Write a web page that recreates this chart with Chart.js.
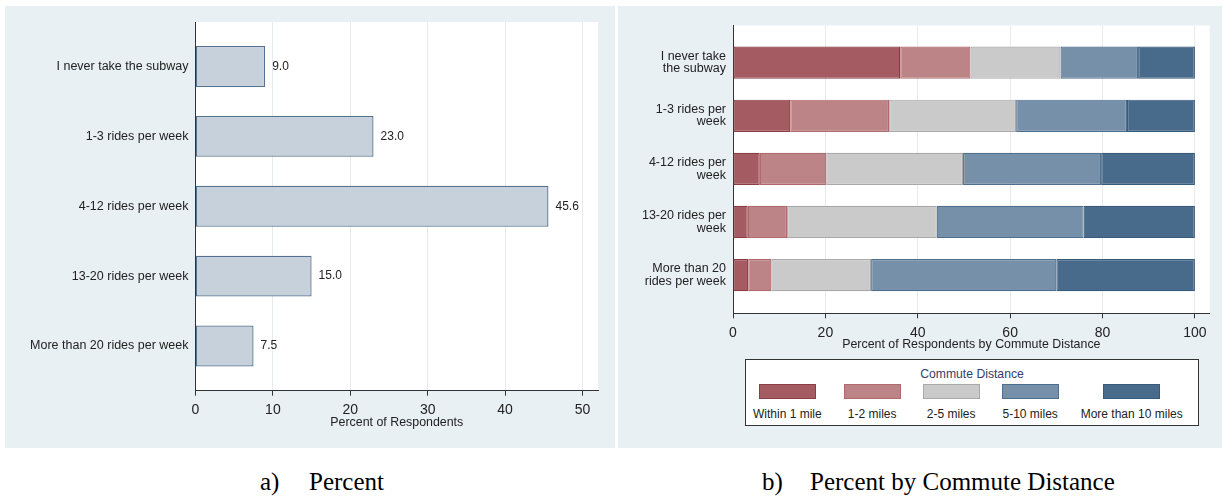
<!DOCTYPE html>
<html>
<head>
<meta charset="utf-8">
<script src="https://cdn.jsdelivr.net/npm/chart.js@4.4.0/dist/chart.umd.min.js"></script>
<style>
  body { margin: 0; background: #fff; width: 1225px; height: 497px; position: relative; overflow: hidden;
         font-family: "Liberation Sans", Arial, sans-serif; }
  .panel { position: absolute; top: 6px; height: 442px; background: #e9f0f3; }
  #panelA { left: 5px; width: 610px; }
  #panelB { left: 618px; width: 604px; }
  .panel canvas { position: absolute; left: 0; top: 0; }
  #legendB { position: absolute; left: 127px; top: 353px; width: 454px; height: 67px; box-sizing: border-box;
             border: 1px solid #333; background: #fff; }
  #legendB .ttl { position: absolute; left: 0; right: 0; top: 7px; text-align: center; font-size: 12.2px;
                  line-height: 14px; color: #34406b; }
  #legendB .items { position: absolute; left: 7px; top: 24px; display: flex; gap: 22px; }
  #legendB .item { display: flex; flex-direction: column; align-items: center; }
  #legendB .sw { width: 57px; height: 15px; box-sizing: border-box; border: 1px solid; }
  #legendB .lbl { margin-top: 8px; font-size: 12px; line-height: 14px; color: #222; white-space: nowrap; }
  .cap { position: absolute; top: 469px; font-family: "Liberation Serif", "Times New Roman", serif;
         font-size: 25px; line-height: 25px; color: #000; white-space: nowrap; }
</style>
</head>
<body>
<div class="panel" id="panelA"><canvas id="chartA" width="610" height="442"></canvas></div>
<div class="panel" id="panelB"><canvas id="chartB" width="604" height="442"></canvas>
  <div id="legendB"><div class="ttl">Commute Distance</div><div class="items"></div></div>
</div>
<div class="cap" style="left:260px">a)</div>
<div class="cap" style="left:309px">Percent</div>
<div class="cap" style="left:762px">b)</div>
<div class="cap" style="left:810px">Percent by Commute Distance</div>

<script>
// categories
const ridesLabels = ['I never take the subway', '1-3 rides per week', '4-12 rides per week',
  '13-20 rides per week', 'More than 20 rides per week'];
const ridesLabelsWrapped = [['I never take', 'the subway'], ['1-3 rides per', 'week'], ['4-12 rides per', 'week'],
  ['13-20 rides per', 'week'], ['More than 20', 'rides per week']];
const distanceLabels = ['Within 1 mile', '1-2 miles', '2-5 miles', '5-10 miles', 'More than 10 miles'];

// a) percent of respondents
const ridesPercent = [9.0, 23.0, 45.6, 15.0, 7.5];

// b) percent by commute distance (rows follow ridesLabels)
const within1Mile = [36.2, 12.4, 5.8, 3.2, 3.3];
const miles1to2 = [15.2, 21.4, 14.4, 8.5, 5.0];
const miles2to5 = [19.5, 27.5, 29.6, 32.4, 21.6];
const miles5to10 = [16.8, 24.0, 29.9, 31.8, 40.1];
const over10Miles = [12.3, 14.7, 20.3, 24.1, 30.0];

const fills = ['#a45c62', '#bc8486', '#cacaca', '#7690a9', '#486b8c'];
const borders = ['#8d3d44', '#b06a6e', '#a9a9a9', '#4f6f8e', '#37597a'];

Chart.defaults.font.family = '"Liberation Sans", Arial, sans-serif';
Chart.defaults.color = '#222';

const plotBg = {
  id: 'plotBg',
  beforeDraw(chart) {
    const {ctx, chartArea: a} = chart;
    ctx.save();
    ctx.fillStyle = '#fff';
    ctx.fillRect(a.left, a.top, a.right - a.left, a.bottom - a.top);
    ctx.restore();
  }
};

const valueLabels = {
  id: 'valueLabels',
  afterDatasetsDraw(chart) {
    const ctx = chart.ctx;
    const meta = chart.getDatasetMeta(0);
    ctx.save();
    ctx.font = '12px "Liberation Sans", Arial, sans-serif';
    ctx.fillStyle = '#222';
    ctx.textBaseline = 'middle';
    meta.data.forEach((bar, i) => {
      ctx.fillText(ridesPercent[i].toFixed(1), bar.x + 7, bar.y);
    });
    ctx.restore();
  }
};

const gridColor = c => (c.tick && c.tick.value === 0) ? 'rgba(0,0,0,0)' : '#e4ebee';

// category positions on a linear scale so the plot can have Stata-like margins
function indexAxis(labels, min, max, width) {
  return {
    type: 'linear', reverse: true, min: min, max: max, bounds: 'data', stacked: true, offset: false,
    afterBuildTicks: s => {
      s.ticks = labels.map((_, i) => ({value: i}));
      s.min = min;
      s.max = max;
    },
    afterFit: s => { s.width = width; },
    ticks: { callback: v => labels[v], autoSkip: false, padding: 7, color: '#222',
             font: { size: 12.5, lineHeight: 1 } },
    grid: { display: false, drawTicks: false, offset: false },
    border: { display: true, color: '#333', width: 1 }
  };
}

function valueAxis(max, step, title, height) {
  return {
    type: 'linear', min: 0, max: max, stacked: true,
    afterFit: s => { s.height = height; },
    ticks: { stepSize: step, includeBounds: false, maxRotation: 0, padding: 6, color: '#222',
             font: { size: 14 } },
    grid: { color: gridColor, tickColor: '#333', tickLength: 5 },
    border: { color: '#333', width: 1 },
    title: { display: true, text: title, color: '#222', padding: 0, font: { size: 12.4, lineHeight: 1 } }
  };
}

new Chart(document.getElementById('chartA'), {
  type: 'bar',
  data: {
    datasets: [{
      label: 'Percent of Respondents',
      data: ridesPercent.map((v, i) => ({x: v, y: i})),
      backgroundColor: '#c7d1dc',
      borderColor: '#557391',
      borderWidth: 1.3,
      borderSkipped: false,
      categoryPercentage: 1,
      barPercentage: 0.586
    }]
  },
  options: {
    indexAxis: 'y',
    responsive: false,
    animation: false,
    layout: { padding: { left: 0, top: 16, right: 17, bottom: 19.5 } },
    plugins: { legend: { display: false }, tooltip: { enabled: false } },
    scales: {
      x: valueAxis(52, 10, 'Percent of Respondents', 37.8),
      y: indexAxis(ridesLabels, -0.637, 4.64, 190.5)
    }
  },
  plugins: [plotBg, valueLabels]
});

const distanceSeries = [within1Mile, miles1to2, miles2to5, miles5to10, over10Miles];

new Chart(document.getElementById('chartB'), {
  type: 'bar',
  data: {
    datasets: distanceSeries.map((arr, k) => ({
      label: distanceLabels[k],
      data: arr.map((v, i) => ({x: v, y: i})),
      backgroundColor: fills[k],
      borderColor: borders[k],
      borderWidth: 1.2,
      borderSkipped: false,
      categoryPercentage: 1,
      barPercentage: 0.608
    }))
  },
  options: {
    indexAxis: 'y',
    responsive: false,
    animation: false,
    layout: { padding: { left: 0, top: 16, right: 12.3, bottom: 97.5 } },
    plugins: { legend: { display: false }, tooltip: { enabled: false } },
    scales: {
      x: valueAxis(103.2, 20, 'Percent of Respondents by Commute Distance', 37.2),
      y: indexAxis(ridesLabelsWrapped, -0.70, 4.72, 115)
    }
  },
  plugins: [plotBg]
});

// legend for b), built from the series names and colours
const legendItems = document.querySelector('#legendB .items');
distanceLabels.forEach((name, k) => {
  const item = document.createElement('div');
  item.className = 'item';
  const sw = document.createElement('div');
  sw.className = 'sw';
  sw.style.background = fills[k];
  sw.style.borderColor = borders[k];
  const lbl = document.createElement('div');
  lbl.className = 'lbl';
  lbl.textContent = name;
  item.appendChild(sw);
  item.appendChild(lbl);
  legendItems.appendChild(item);
});
</script>
</body>
</html>
